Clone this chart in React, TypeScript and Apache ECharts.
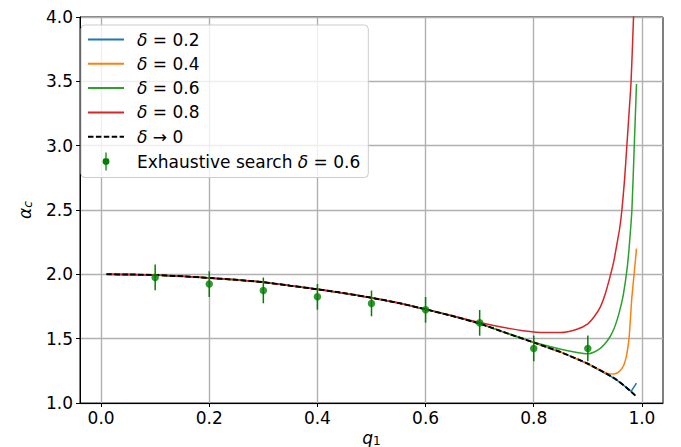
import React, { useEffect, useRef } from "react";
import * as echarts from "echarts";

const FONT = "DejaVu Sans";

// δ → 0 limit curve
const qLimit = [0.01, 0.05, 0.1, 0.15, 0.2, 0.25, 0.3, 0.35, 0.4, 0.45, 0.5, 0.55, 0.6, 0.65, 0.7, 0.75, 0.8, 0.85, 0.9, 0.95, 0.97, 0.98, 0.99];
const alphaLimit = [2.0, 1.999, 1.994, 1.985, 1.972, 1.957, 1.939, 1.912, 1.884, 1.853, 1.818, 1.777, 1.728, 1.676, 1.617, 1.543, 1.47, 1.395, 1.305, 1.19, 1.125, 1.088, 1.05];

// finite δ curves: follow the limit curve up to the first tail point, then their own tail
const qD02Tail = [0.98, 0.99];
const alphaD02Tail = [1.09, 1.155];
const qD04Tail = [0.92, 0.935, 0.948, 0.957, 0.963, 0.967, 0.971, 0.974, 0.977, 0.981, 0.986, 0.99];
const alphaD04Tail = [1.262, 1.232, 1.225, 1.24, 1.269, 1.3, 1.359, 1.43, 1.54, 1.8, 2.02, 2.2];
const qD06Tail = [0.78, 0.8, 0.85, 0.88, 0.9, 0.912, 0.923, 0.932, 0.941, 0.948, 0.954, 0.96, 0.966, 0.973, 0.977, 0.9815, 0.9858, 0.99];
const alphaD06Tail = [1.502, 1.472, 1.418, 1.392, 1.382, 1.396, 1.424, 1.462, 1.515, 1.573, 1.644, 1.735, 1.851, 2.058, 2.24, 2.5, 2.99, 3.48];
const qD08Tail = [0.68, 0.7, 0.74, 0.78, 0.82, 0.85, 0.88, 0.9, 0.912, 0.923, 0.932, 0.941, 0.948, 0.954, 0.959, 0.963, 0.968, 0.972, 0.976, 0.98, 0.9845, 0.99];
const alphaD08Tail = [1.645, 1.626, 1.59, 1.562, 1.547, 1.547, 1.573, 1.615, 1.672, 1.745, 1.845, 1.98, 2.1, 2.24, 2.36, 2.5, 2.74, 2.99, 3.24, 3.5, 4.0, 4.7];

// exhaustive search δ = 0.6
const qExh = [0.1, 0.2, 0.3, 0.4, 0.5, 0.6, 0.7, 0.8, 0.9];
const alphaExh = [1.976, 1.924, 1.875, 1.825, 1.774, 1.724, 1.623, 1.424, 1.424];
const errExh = [0.1, 0.1, 0.1, 0.1, 0.1, 0.1, 0.1, 0.1, 0.1];

const xTicks = [0, 0.2, 0.4, 0.6, 0.8, 1.0];

const seriesNames = ["δ = 0.2", "δ = 0.4", "δ = 0.6", "δ = 0.8", "δ → 0", "Exhaustive search δ = 0.6"];
const seriesColors = ["#1f77b4", "#ff7f0e", "#2ca02c", "#d62728", "#000000", "#008000"];

function combine(qTail: number[], aTail: number[]): number[][] {
  const start = qTail[0];
  const head = qLimit.map((q, i) => [q, alphaLimit[i]]).filter((p) => p[0] < start - 1e-9);
  return head.concat(qTail.map((q, i) => [q, aTail[i]]));
}

export default function App() {
  const ref = useRef<HTMLDivElement>(null);
  useEffect(() => {
    if (!ref.current) return;
    const chart = echarts.init(ref.current, undefined, { renderer: "svg" });
    const tails = [
      [qD02Tail, alphaD02Tail],
      [qD04Tail, alphaD04Tail],
      [qD06Tail, alphaD06Tail],
      [qD08Tail, alphaD08Tail],
    ];
    const lineSeries: any[] = tails.map((t, k) => ({
      type: "line",
      name: seriesNames[k],
      data: combine(t[0], t[1]),
      symbol: "none",
      smooth: k === 0 ? false : 0.2,
      clip: true,
      lineStyle: { color: seriesColors[k], width: 1.5 },
      itemStyle: { color: seriesColors[k] },
      z: 2,
    }));
    lineSeries.push({
      type: "line",
      name: seriesNames[4],
      data: qLimit.map((q, i) => [q, alphaLimit[i]]),
      symbol: "none",
      smooth: 0.2,
      lineStyle: { color: "#000", width: 2, type: [5.5, 2.4] },
      itemStyle: { color: "#000" },
      z: 3,
    });
    const exhName = seriesNames[5];
    lineSeries.push({
      type: "custom",
      name: exhName,
      data: qExh.map((q, i) => [q, alphaExh[i], errExh[i]]),
      encode: { x: 0, y: 1 },
      z: 4,
      itemStyle: { color: seriesColors[5] },
      renderItem: (params: any, api: any) => {
        const x = api.value(0);
        const y = api.value(1);
        const e = api.value(2);
        const p1 = api.coord([x, y - e]);
        const p2 = api.coord([x, y + e]);
        return {
          type: "line",
          shape: { x1: p1[0], y1: p1[1], x2: p2[0], y2: p2[1] },
          style: { stroke: seriesColors[5], lineWidth: 1.5 },
        };
      },
    });
    lineSeries.push({
      type: "scatter",
      name: exhName,
      data: qExh.map((q, i) => [q, alphaExh[i]]),
      symbol: "circle",
      symbolSize: 7.5,
      itemStyle: { color: seriesColors[5] },
      z: 5,
    });

    const errIcon =
      "path://M4.3,0 L5.7,0 L5.7,20 L4.3,20 Z M1.2,10 A3.8,3.8 0 1,1 8.8,10 A3.8,3.8 0 1,1 1.2,10 Z";

    const axisCommon = {
      axisLine: { show: true, onZero: false, lineStyle: { color: "#000", width: 1 } },
      splitLine: { show: true, lineStyle: { color: "#b0b0b0", width: 1.4 } },
      nameMoveOverlap: false,
    };

    const hiddenSymbol = { opacity: 0 };

    chart.setOption({
      animation: false,
      backgroundColor: "#fff",
      grid: {
        left: 80,
        right: 18,
        top: 17,
        bottom: 44,
        show: true,
        borderColor: "#000",
        borderWidth: 1,
        containLabel: false,
        outerBoundsMode: "none",
      },
      xAxis: {
        type: "value",
        min: -0.039,
        max: 1.039,
        ...axisCommon,
        axisTick: { show: true, inside: false, length: 4, lineStyle: { color: "#000" }, customValues: xTicks },
        axisLabel: {
          customValues: xTicks,
          formatter: (v: number) => v.toFixed(1),
          fontFamily: FONT,
          fontSize: 17,
          color: "#000",
          margin: 6,
        },
        name: "{q|q}{s|1}",
        nameLocation: "middle",
        nameGap: 26,
        nameTextStyle: {
          rich: {
            q: { fontFamily: FONT, fontStyle: "italic", fontSize: 17, color: "#000", lineHeight: 18, verticalAlign: "top" },
            s: { fontFamily: FONT, fontSize: 12, color: "#000", lineHeight: 18, verticalAlign: "bottom" },
          },
        },
      },
      yAxis: {
        type: "value",
        min: 1,
        max: 4,
        interval: 0.5,
        ...axisCommon,
        axisTick: { show: true, inside: false, length: 4, lineStyle: { color: "#000" } },
        axisLabel: {
          formatter: (v: number) => v.toFixed(1),
          fontFamily: FONT,
          fontSize: 17,
          color: "#000",
          margin: 7,
        },
        name: "{a|α}{c|c}",
        nameLocation: "middle",
        nameGap: 46,
        nameTextStyle: {
          rich: {
            a: { fontFamily: FONT, fontStyle: "italic", fontSize: 17, color: "#000", lineHeight: 18, verticalAlign: "top" },
            c: { fontFamily: FONT, fontStyle: "italic", fontSize: 12, color: "#000", lineHeight: 18, verticalAlign: "bottom" },
          },
        },
      },
      legend: {
        orient: "vertical",
        left: 81,
        top: 25,
        padding: [6, 8, 7, 6],
        itemGap: 7.3,
        itemWidth: 36,
        itemHeight: 18,
        selectedMode: false,
        backgroundColor: "rgba(255,255,255,0.8)",
        borderColor: "#cccccc",
        borderWidth: 1,
        borderRadius: 4,
        z: 10,
        formatter: (name: string) => name.replace("δ", "{i|δ}"),
        textStyle: {
          fontFamily: FONT,
          fontSize: 17,
          color: "#000",
          padding: [0, 0, 0, 8],
          rich: { i: { fontFamily: FONT, fontStyle: "italic", fontSize: 17, color: "#000" } },
        },
        data: [
          { name: seriesNames[0], itemStyle: hiddenSymbol },
          { name: seriesNames[1], itemStyle: hiddenSymbol },
          { name: seriesNames[2], itemStyle: hiddenSymbol },
          { name: seriesNames[3], itemStyle: hiddenSymbol },
          { name: seriesNames[4], itemStyle: hiddenSymbol },
          { name: exhName, icon: errIcon, itemStyle: { color: seriesColors[5] } },
        ],
      },
      series: lineSeries,
    });
    return () => chart.dispose();
  }, []);
  return (
    <div
      ref={ref}
      style={{ position: "fixed", left: 0, top: 0, width: 681, height: 447, background: "#fff" }}
    />
  );
}
